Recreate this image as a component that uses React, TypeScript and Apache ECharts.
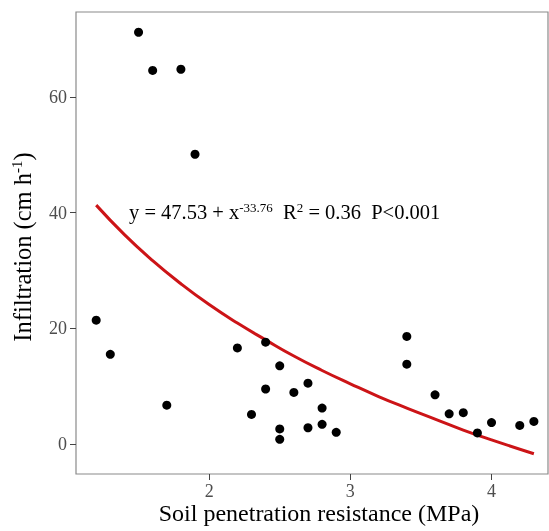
import React, { useEffect, useRef } from "react";
import * as echarts from "echarts";

const pointX = [1.5, 1.6, 1.8, 1.9, 1.2, 1.3, 1.7, 2.2, 2.4, 2.4, 2.3, 2.5, 2.5, 2.5, 2.6, 2.7, 2.7, 2.8, 2.8, 2.9, 3.4, 3.4, 3.6, 3.7, 3.8, 3.9, 4.0, 4.2, 4.3];
const pointY = [71.2, 64.6, 64.8, 50.1, 21.4, 15.5, 6.7, 16.6, 17.6, 9.5, 5.1, 13.5, 2.6, 0.8, 8.9, 10.5, 2.8, 6.2, 3.4, 2.0, 18.6, 13.8, 8.5, 5.2, 5.4, 1.9, 3.7, 3.2, 3.9];

const curveX = [1.2, 1.4, 1.6, 1.8, 2.0, 2.2, 2.4, 2.6, 2.8, 3.0, 3.2, 3.4, 3.6, 3.8, 4.0, 4.3];
const curveY = [41.3, 36.2, 31.7, 27.7, 24.1, 20.9, 18.0, 15.2, 12.7, 10.4, 8.2, 6.2, 4.3, 2.4, 0.7, -1.7];

const xTicks = [2, 3, 4];
const yTicks = [0, 20, 40, 60];

const FONT = "'Liberation Serif', 'Times New Roman', serif";

export default function App() {
  const ref = useRef<HTMLDivElement>(null);
  useEffect(() => {
    if (!ref.current) return;
    const chart = echarts.init(ref.current, null, { renderer: "svg" });
    const axisColor = "#8a8a8a";
    chart.setOption({
      animation: false,
      grid: { left: 76, top: 12, right: 1, bottom: 57, show: true, borderColor: axisColor, borderWidth: 1.2 },
      xAxis: {
        type: "value",
        min: 1.057,
        max: 4.4,
        axisLine: { show: false, onZero: false },
        axisTick: { show: true, length: 6, lineStyle: { color: "#444" }, customValues: xTicks },
        splitLine: { show: false },
        axisLabel: {
          color: "#4d4d4d",
          fontFamily: FONT,
          fontSize: 18,
          margin: 8,
          lineHeight: 18,
          customValues: xTicks,
          formatter: (v: number) => String(v),
        },
      },
      yAxis: {
        type: "value",
        min: -5.2,
        max: 74.7,
        axisLine: { show: false, onZero: false },
        axisTick: { show: true, length: 6, lineStyle: { color: "#444" }, customValues: yTicks },
        splitLine: { show: false },
        axisLabel: {
          color: "#4d4d4d",
          fontFamily: FONT,
          fontSize: 18,
          margin: 9,
          customValues: yTicks,
          formatter: (v: number) => String(v),
        },
      },
      series: [
        {
          type: "line",
          data: curveX.map((x, i) => [x, curveY[i]]),
          smooth: true,
          showSymbol: false,
          lineStyle: { color: "#cc1417", width: 3 },
          z: 2,
        },
        {
          type: "scatter",
          data: pointX.map((x, i) => [x, pointY[i]]),
          symbolSize: 9,
          itemStyle: { color: "#000", opacity: 1 },
          z: 3,
        },
      ],
      graphic: [
        {
          type: "text",
          x: 129,
          y: 212,
          style: {
            text: "y = 47.53 + x{sup|-33.76}  R{sup|2} = 0.36  P<0.001",
            font: `20.5px ${FONT}`,
            fill: "#000",
            verticalAlign: "middle",
            rich: {
              sup: { fontSize: 13, fontFamily: FONT, verticalAlign: "top", padding: [0, 0, 9, 0] },
            },
          },
        },
        {
          type: "text",
          x: 319,
          y: 513,
          style: {
            text: "Soil penetration resistance (MPa)",
            font: `24px ${FONT}`,
            lineHeight: 24,
            fill: "#000",
            align: "center",
            verticalAlign: "middle",
          },
        },
        {
          type: "text",
          x: 22,
          y: 247,
          rotation: Math.PI / 2,
          style: {
            text: "Infiltration (cm h{sup|-1})",
            font: `24.5px ${FONT}`,
            fill: "#000",
            align: "center",
            verticalAlign: "middle",
            rich: {
              sup: { fontSize: 15, fontFamily: FONT, verticalAlign: "top", padding: [0, 0, 11, 0] },
            },
          },
        },
      ],
    });
    return () => chart.dispose();
  }, []);
  return <div ref={ref} style={{ position: "fixed", left: 0, top: 0, width: 549, height: 531 }} />;
}
